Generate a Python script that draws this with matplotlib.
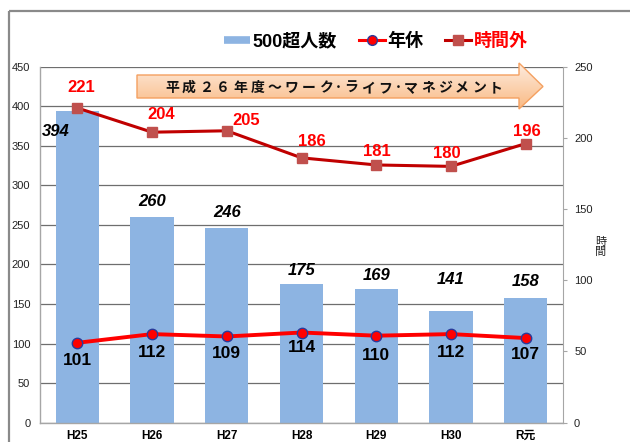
import matplotlib
matplotlib.use("Agg")
import matplotlib.pyplot as plt
import numpy as np
from matplotlib.patches import Polygon, Rectangle
from matplotlib.lines import Line2D

# ---- data ----
years = ['H25', 'H26', 'H27', 'H28', 'H29', 'H30', 'R元']
over500 = [394, 260, 246, 175, 169, 141, 158]      # 500超人数 (left axis)
nenkyu = [101, 112, 109, 114, 110, 112, 107]        # 年休 (left axis)
jikangai = [221, 204, 205, 186, 181, 180, 196]      # 時間外 (right axis)
left_ticks = [0, 50, 100, 150, 200, 250, 300, 350, 400, 450]
right_ticks = [0, 50, 100, 150, 200, 250]
banner = "平成２６年度～ワーク･ライフ･マネジメント"

# label offsets (pixels, dx, dy up)
bar_off = [(-22, -20), (0, 16), (0, 16), (0, 14), (0, 14), (0, 32), (0, 16)]
jik_off = [(4, 20), (9, 18), (19, 10), (10, 16), (1, 13), (-4, 13), (1, 12)]
nen_off = [(0, -18), (0, -18), (0, -17), (0, -15), (0, -20), (0, -18), (0, -16)]

LAT = ['Liberation Sans', 'Noto Sans CJK JP', 'DejaVu Sans']
CJK = ['Noto Sans CJK JP', 'DejaVu Sans']
plt.rcParams['font.family'] = LAT

W, H = 630, 442
fig = plt.figure(figsize=(W / 100, H / 100), dpi=100)
fig.patch.set_facecolor('white')

L, R, T, B = 40, 563, 66.7, 422.7
ax = fig.add_axes([L / W, 1 - B / H, (R - L) / W, (B - T) / H])
x = np.arange(len(years))

ax.bar(x, over500, width=0.58, color='#8DB4E2', zorder=2)
ax.plot(x, nenkyu, color='#FF0000', lw=2.8, marker='o', ms=7.5,
        mfc='#FF0000', mec='#2A3A9A', mew=1.0, zorder=4)
ax.set_xlim(-0.5, len(years) - 0.5)
ax.set_ylim(0, 450)
ax.set_yticks(left_ticks)
ax.set_xticks(x)
ax.set_xticklabels(years, fontweight='bold', fontsize=8.5)
ax.tick_params(axis='y', length=0, pad=7, labelsize=8, colors='#222222')
ax.tick_params(axis='x', length=0, pad=5)
ax.yaxis.grid(True, color='#6e6e6e', lw=0.9)
ax.set_axisbelow(True)
for s in ['top', 'right']:
    ax.spines[s].set_visible(False)
for s in ['left', 'bottom']:
    ax.spines[s].set_color('#a6a6a6')
    ax.spines[s].set_linewidth(1.0)

ax2 = ax.twinx()
ax2.plot(x, jikangai, color='#C00000', lw=2.2, marker='s', ms=7.2,
         mfc='#C0504D', mec='#C0504D', zorder=5)
ax2.set_ylim(0, 250)
ax2.set_yticks(right_ticks)
ax2.tick_params(axis='y', direction='out', length=3, pad=5, labelsize=8,
                colors='#222222')
ax2.tick_params(axis='y', color='#a6a6a6')
for s in ['top', 'left', 'bottom']:
    ax2.spines[s].set_visible(False)
ax2.spines['right'].set_color('#a6a6a6')

PT = 0.72
for i, v in enumerate(over500):
    dx, dy = bar_off[i]
    ax.annotate(str(v), (x[i], v), xytext=(dx * PT, dy * PT),
                textcoords='offset points', ha='center', va='center',
                fontsize=12, fontweight='bold', fontstyle='italic',
                color='black', zorder=6)
for i, v in enumerate(nenkyu):
    dx, dy = nen_off[i]
    ax.annotate(str(v), (x[i], v), xytext=(dx * PT, dy * PT),
                textcoords='offset points', ha='center', va='center',
                fontsize=12.5, fontweight='bold', color='black', zorder=6)
for i, v in enumerate(jikangai):
    dx, dy = jik_off[i]
    ax2.annotate(str(v), (x[i], v), xytext=(dx * PT, dy * PT),
                 textcoords='offset points', ha='center', va='center',
                 fontsize=12, fontweight='bold', color='#FF0000', zorder=6)

# overlay in pixel coords
ov = fig.add_axes([0, 0, 1, 1], zorder=10)
ov.set_xlim(0, W)
ov.set_ylim(H, 0)
ov.axis('off')
ov.patch.set_alpha(0)

# figure frame
ov.add_patch(Rectangle((8.5, 11), 800, 600, fill=False, ec='#8a8a8a', lw=1.6))

# banner arrow
pts = [(137, 75), (519, 75), (519, 63), (543, 86.5), (519, 109), (519, 98), (137, 98)]
poly = Polygon(pts, closed=True, fc='none', ec='#F4A060', lw=1.0, zorder=3)
grad = np.linspace(0, 1, 100).reshape(-1, 1)
c0 = np.array([0xFE, 0xEC, 0xDF]) / 255
c1 = np.array([0xF9, 0xBA, 0x84]) / 255
img = c0[None, None, :] * (1 - grad[:, :, None]) + c1[None, None, :] * grad[:, :, None]
im = ov.imshow(img, extent=(137, 543, 109, 63), aspect='auto', zorder=2)
clip = Polygon(pts, closed=True, transform=ov.transData, fc='none', ec='none')
ov.add_patch(clip)
im.set_clip_path(clip)
ov.add_patch(poly)
ov.set_xlim(0, W)
ov.set_ylim(H, 0)

# banner text, characters placed one by one
widths = [0.5 if ch == '･' else 1.0 for ch in banner]
x0, x1 = 172, 496
unit = (x1 - x0) / (sum(widths) - 0.5 * (widths[0] + widths[-1]))
pos = x0
for i, ch in enumerate(banner):
    if i > 0:
        pos += unit * 0.5 * (widths[i - 1] + widths[i])
    ov.text(pos, 88, ch, ha='center', va='center', fontsize=10,
            family=CJK, fontweight='bold', color='#111111', zorder=4)

# right axis label
ov.text(601, 247, "時\n間", ha='center', va='center', fontsize=8,
        family=CJK, linespacing=1.05, color='#222222')

# legend
handles = [
    Line2D([0], [0], color='#8DB4E2', lw=5.5, solid_capstyle='butt'),
    Line2D([0], [0], color='#FF0000', lw=2.2, marker='o', ms=7,
           mfc='#FF0000', mec='#2A3A9A'),
    Line2D([0], [0], color='#C00000', lw=2.2, marker='s', ms=7,
           mfc='#C0504D', mec='#C0504D'),
]
labels = ['500超人数', '年休', '時間外']
leg = fig.legend(handles, labels, loc='center', ncol=3,
                 bbox_to_anchor=(376 / W, 1 - 41.7 / H), frameon=False,
                 prop={'family': LAT, 'weight': 'bold', 'size': 13},
                 handlelength=1.45, handletextpad=0.15, columnspacing=1.2,
                 borderpad=0)
leg.get_texts()[2].set_color('#FF0000')

fig.savefig('out.png', dpi=100, facecolor='white')
